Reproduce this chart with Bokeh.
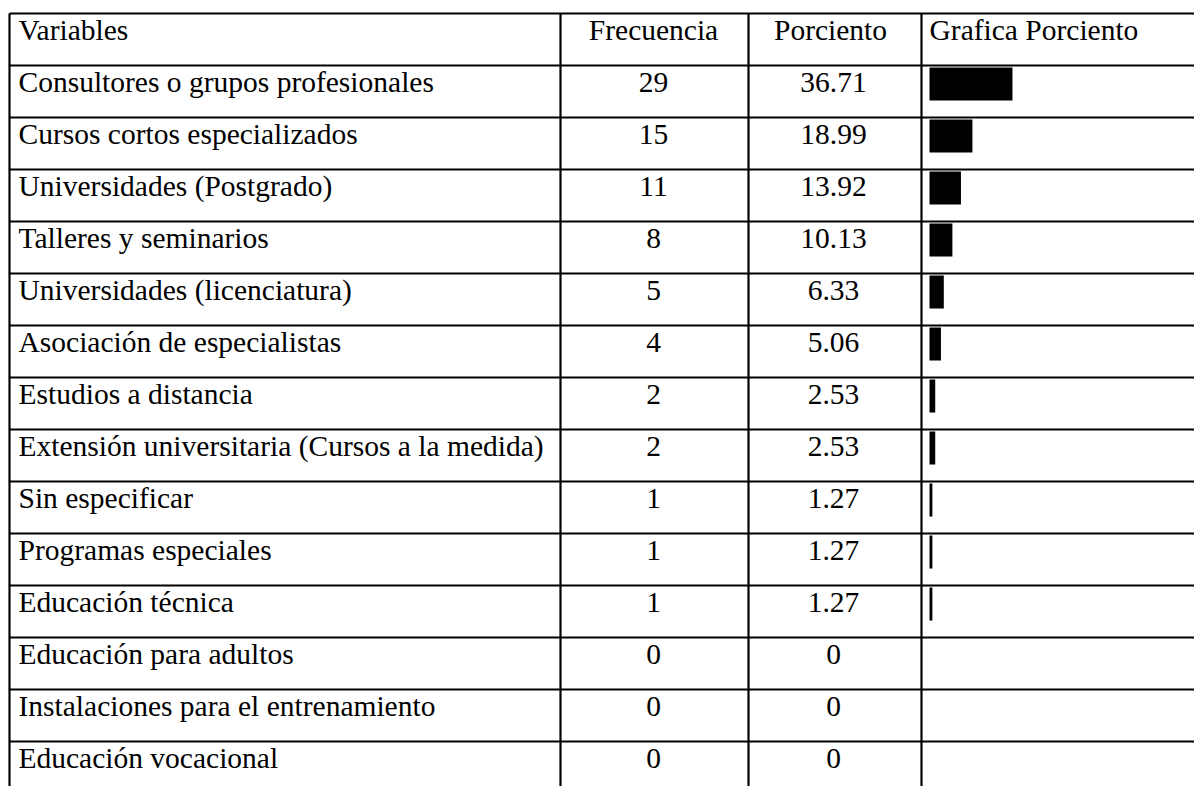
from bokeh.plotting import figure
from bokeh.models import Range1d, ColumnDataSource
from bokeh.core.properties import value
from bokeh.embed import file_html
from bokeh.resources import INLINE

# ---------------- data ----------------
headers = ["Variables", "Frecuencia", "Porciento", "Grafica Porciento"]
variables = [
    "Consultores o grupos profesionales",
    "Cursos cortos especializados",
    "Universidades (Postgrado)",
    "Talleres y seminarios",
    "Universidades (licenciatura)",
    "Asociación de especialistas",
    "Estudios a distancia",
    "Extensión universitaria (Cursos a la medida)",
    "Sin especificar",
    "Programas especiales",
    "Educación técnica",
    "Educación para adultos",
    "Instalaciones para el entrenamiento",
    "Educación vocacional",
]
frecuencia = [29, 15, 11, 8, 5, 4, 2, 2, 1, 1, 1, 0, 0, 0]
porciento = [36.71, 18.99, 13.92, 10.13, 6.33, 5.06, 2.53, 2.53, 1.27, 1.27, 1.27, 0, 0, 0]

# ---------------- layout ----------------
W, H = 1194, 786
RH = 52.0                 # row height in px
TOP = 13.0                # top border offset inside figure
FONT = value("Liberation Serif")
FSIZE = value("29.5px")
COL_X = [9, 560, 748, 921]     # vertical rule positions (px)
RIGHT = W
BAR_X0 = 929                   # px where bars start
PX_PER_PCT = 2.26

n = len(variables)
y_bottom = (H - TOP) / RH

p = figure(width=W, height=H, output_backend="svg", toolbar_location=None,
           x_range=Range1d(0, RIGHT), y_range=Range1d(y_bottom, -TOP / RH),
           x_axis_type=None, y_axis_type=None, min_border=0,
           outline_line_color=None, background_fill_color="white",
           border_fill_color="white")
p.grid.visible = False
p.extra_x_ranges = {"pct": Range1d(-BAR_X0 / PX_PER_PCT, (RIGHT - BAR_X0) / PX_PER_PCT)}

# grid lines of the table
hy = list(range(n + 1))
p.segment(x0=[COL_X[0]] * len(hy), x1=[RIGHT] * len(hy), y0=hy, y1=hy,
          line_color="black", line_width=2.2)
p.segment(x0=COL_X, x1=COL_X, y0=[0] * len(COL_X), y1=[y_bottom + 1] * len(COL_X),
          line_color="black", line_width=2.2)

BASE = 16.5 / RH  # text anchor offset within a row (row units)

# header
p.text(x=[18], y=[BASE], text=[headers[0]], text_font=FONT, text_font_size=FSIZE,
       text_color="black", text_baseline="alphabetic", text_align="left")
p.text(x=[653, 830], y=[BASE, BASE], text=headers[1:3], text_font=FONT,
       text_font_size=FSIZE, text_color="black", text_baseline="alphabetic",
       text_align="center")
p.text(x=[929], y=[BASE], text=[headers[3]], text_font=FONT, text_font_size=FSIZE,
       text_color="black", text_baseline="alphabetic", text_align="left")

rows = [i + 1 for i in range(n)]
src = ColumnDataSource(dict(
    var=variables,
    freq=[str(f) for f in frecuencia],
    pct_txt=[("%.2f" % v) if v else "0" for v in porciento],
    pct=porciento,
    ybase=[r + BASE for r in rows],
    ybar=[r + 0.356 for r in rows],
    xv=[18] * n, xf=[653] * n, xp=[833] * n,
))

p.text(x="xv", y="ybase", text="var", source=src, text_font=FONT, text_font_size=FSIZE,
       text_color="black", text_baseline="alphabetic", text_align="left")
p.text(x="xf", y="ybase", text="freq", source=src, text_font=FONT, text_font_size=FSIZE,
       text_color="black", text_baseline="alphabetic", text_align="center")
p.text(x="xp", y="ybase", text="pct_txt", source=src, text_font=FONT, text_font_size=FSIZE,
       text_color="black", text_baseline="alphabetic", text_align="center")

p.hbar(y="ybar", left=0, right="pct", height=0.635, source=src, x_range_name="pct",
       fill_color="black", line_color=None)

open("out.html", "w").write(file_html(p, INLINE))
